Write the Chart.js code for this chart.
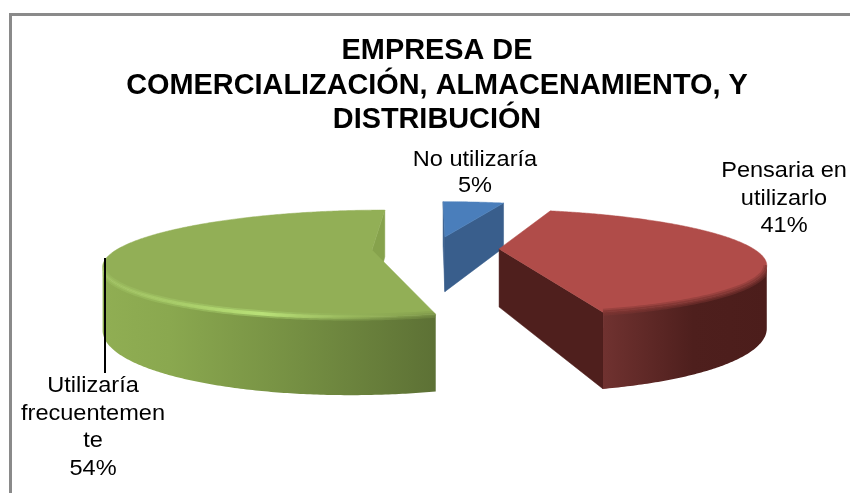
<!DOCTYPE html>
<html>
<head>
<meta charset="utf-8">
<style>html,body{margin:0;padding:0;background:#fff}canvas{display:block}</style>
<script src="https://cdn.jsdelivr.net/npm/chart.js@4"></script>
</head>
<body>
<canvas id="c" width="850" height="493"></canvas>
<script>
const titleLines = ['EMPRESA DE', 'COMERCIALIZACIÓN, ALMACENAMIENTO, Y', 'DISTRIBUCIÓN'];
const categories = ['No utilizaría', 'Pensaria en utilizarlo', 'Utilizaría frecuentemente'];
const values = [5, 41, 54];
const labelLines = [['No utilizaría'], ['Pensaria en', 'utilizarlo'], ['Utilizaría', 'frecuentemen', 'te']];
const topColors = ['#4a7ebb', '#b04c49', '#92af56'];
const wallColors = ['#395e8c', '#4f1f1d', '#86a24c'];
const rimStops = [
  [[0, '#395e8c'], [1, '#395e8c']],
  [[0, '#703230'], [0.55, '#4e1f1d'], [1, '#4c1d1b']],
  [[0, '#90ae53'], [0.2, '#8aa84f'], [0.6, '#748e42'], [1, '#5d7135']]
];
const softBevel = [
  [[0, 'rgba(0,0,0,0)'], [1, 'rgba(0,0,0,0)']],
  [[0, 'rgba(128,54,51,0.45)'], [1, 'rgba(128,54,51,0.45)']],
  [[0, 'rgba(160,195,100,0.35)'], [0.45, 'rgba(170,210,110,0.55)'], [1, 'rgba(125,150,72,0.4)']]
];
const hardBevel = [
  [[0, 'rgba(0,0,0,0)'], [1, 'rgba(0,0,0,0)']],
  [[0, 'rgba(125,52,49,0.7)'], [1, 'rgba(125,52,49,0.7)']],
  [[0, 'rgba(170,205,105,0.3)'], [0.25, 'rgba(172,210,108,0.8)'], [0.48, 'rgba(185,225,120,1)'], [0.8, 'rgba(150,180,90,0.55)'], [1, 'rgba(120,145,70,0.5)']]
];
const paintOrder = [0, 2, 1];
const labelBoxes = [[475, 160, 26], [784, 171, 27.5], [93, 386, 27.5]];

const VIEW = {x0: 435.5, y0: 248.5, a: 254, b: 49.3, k: 0.25, depth: 58, explode: 0.25};
const STRETCH = {label: 1.07, title: 0.995, titleX: 437};

function project(u, v, h) {
  const w = 1 + VIEW.k * v;
  return [VIEW.x0 + VIEW.a * u / w, VIEW.y0 + (-VIEW.b * v + h * VIEW.depth) / w];
}
function area(q) {
  let s = 0;
  q.forEach((p, i) => { const n = q[(i + 1) % q.length]; s += p[0] * n[1] - n[0] * p[1]; });
  return s / 2;
}
function tracePoly(ctx, pts) {
  pts.forEach((p, i) => i ? ctx.lineTo(p[0], p[1]) : ctx.moveTo(p[0], p[1]));
  ctx.closePath();
}
function fillPoly(ctx, pts, style) {
  ctx.beginPath();
  tracePoly(ctx, pts);
  ctx.fillStyle = style;
  ctx.fill();
  ctx.strokeStyle = typeof style === 'string' ? style : 'rgba(0,0,0,0)';
  ctx.lineWidth = 0.5;
  ctx.stroke();
}
function makeGradient(ctx, x1, x2, stops) {
  const g = ctx.createLinearGradient(x1, 0, x2, 0);
  stops.forEach(s => g.addColorStop(s[0], s[1]));
  return g;
}

const pie3d = {
  id: 'pie3d',
  afterLayout(chart) {
    const block = chart.titleBlock;
    if (block && !block._wrapped) {
      const draw = block.draw.bind(block);
      block.draw = function () {
        const ctx = chart.ctx;
        ctx.save();
        ctx.translate(STRETCH.titleX, 0);
        ctx.scale(STRETCH.title, 1);
        ctx.translate(-chart.width / 2, 0);
        draw();
        ctx.restore();
      };
      block._wrapped = true;
    }
  },
  beforeDraw(chart) {
    const ctx = chart.ctx;
    ctx.save();
    ctx.fillStyle = '#fff';
    ctx.fillRect(0, 0, chart.width, chart.height);
    ctx.strokeStyle = '#8a8a8a';
    ctx.lineWidth = 3;
    ctx.beginPath();
    ctx.moveTo(10.5, 493);
    ctx.lineTo(10.5, 14.5);
    ctx.lineTo(850, 14.5);
    ctx.stroke();
    ctx.restore();
  },
  beforeDatasetsDraw(chart) {
    const ctx = chart.ctx;
    const arcs = chart.getDatasetMeta(0).data;
    ctx.save();
    paintOrder.forEach(i => {
      const arc = arcs[i];
      const s = arc.startAngle, e = arc.endAngle, mid = (s + e) / 2;
      const ox = VIEW.explode * Math.cos(mid), oy = -VIEW.explode * Math.sin(mid);
      const n = Math.max(8, Math.round((e - s) / 0.01));
      const rimAt = (t, r) => {
        const a = s + (e - s) * t;
        return [ox + r * Math.cos(a), oy - r * Math.sin(a)];
      };
      const apexT = project(ox, oy, 0), apexB = project(ox, oy, 1);
      const sT = project(...rimAt(0, 1), 0), sB = project(...rimAt(0, 1), 1);
      const eT = project(...rimAt(1, 1), 0), eB = project(...rimAt(1, 1), 1);
      const startWall = [apexT, sT, sB, apexB];
      const endWall = [eT, apexT, apexB, eB];
      if (area(startWall) < 0) fillPoly(ctx, startWall, wallColors[i]);
      if (area(endWall) < 0) fillPoly(ctx, endWall, wallColors[i]);
      const upper = [], lower = [];
      for (let j = 0; j < n; j++) {
        const a0 = rimAt(j / n, 1), a1 = rimAt((j + 1) / n, 1);
        const q = [project(...a0, 0), project(...a1, 0), project(...a1, 1), project(...a0, 1)];
        if (area(q) < 0) {
          if (!upper.length) { upper.push(q[0]); lower.push(q[3]); }
          upper.push(q[1]); lower.push(q[2]);
        }
      }
      let x1 = 0, x2 = 1, wall = [];
      if (upper.length) {
        const xs = upper.map(p => p[0]);
        x1 = Math.min(...xs); x2 = Math.max(...xs);
        wall = upper.concat(lower.slice().reverse());
        fillPoly(ctx, wall, makeGradient(ctx, x1, x2, rimStops[i]));
      }
      const face = [apexT];
      for (let j = 0; j <= n; j++) face.push(project(...rimAt(j / n, 1), 0));
      fillPoly(ctx, face, arc.options.backgroundColor);
      if (upper.length > 1) {
        ctx.save();
        ctx.beginPath();
        tracePoly(ctx, face);
        tracePoly(ctx, wall);
        ctx.clip('nonzero');
        [[softBevel, 7], [hardBevel, 3.5]].forEach(pass => {
          ctx.beginPath();
          upper.forEach((p, j) => j ? ctx.lineTo(p[0], p[1]) : ctx.moveTo(p[0], p[1]));
          ctx.strokeStyle = makeGradient(ctx, x1, x2, pass[0][i]);
          ctx.lineWidth = pass[1];
          ctx.stroke();
        });
        ctx.restore();
      }
    });
    ctx.restore();
    return false;
  },
  afterDraw(chart) {
    const ctx = chart.ctx;
    ctx.save();
    ctx.strokeStyle = '#000';
    ctx.lineWidth = 2;
    ctx.beginPath();
    ctx.moveTo(105, 258);
    ctx.lineTo(105, 373);
    ctx.stroke();
    ctx.fillStyle = '#000';
    ctx.font = "22px 'Liberation Sans'";
    ctx.textAlign = 'center';
    ctx.textBaseline = 'middle';
    labelLines.forEach((lines, i) => {
      const box = labelBoxes[i];
      lines.concat(values[i] + '%').forEach((t, j) => {
        ctx.save();
        ctx.translate(box[0], box[1] + j * box[2]);
        ctx.scale(STRETCH.label, 1);
        ctx.fillText(t, 0, 0);
        ctx.restore();
      });
    });
    ctx.restore();
  }
};

new Chart(document.getElementById('c'), {
  type: 'pie',
  data: {
    labels: categories,
    datasets: [{data: values, backgroundColor: topColors, borderWidth: 0}]
  },
  options: {
    responsive: false,
    animation: false,
    devicePixelRatio: 1,
    plugins: {
      legend: {display: false},
      tooltip: {enabled: false},
      title: {
        display: true,
        text: titleLines,
        color: '#000',
        font: {family: "'Liberation Sans'", size: 29, weight: 'bold', lineHeight: 1.19},
        padding: {top: 34, bottom: 4}
      }
    }
  },
  plugins: [pie3d]
});
</script>
</body>
</html>
